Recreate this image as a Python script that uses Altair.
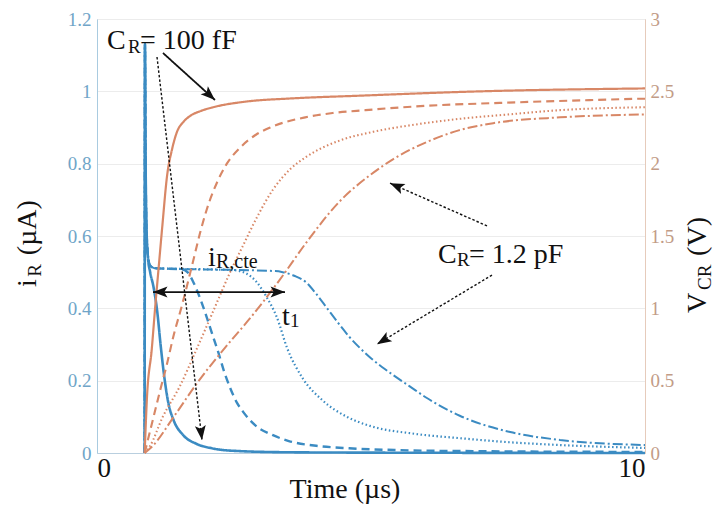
import math
import altair as alt
import pandas as pd

FONT = "Liberation Serif"
W, H = 548, 434                 # plot area (px)
T_MAX, I_MAX, V_MAX = 10.0, 1.2, 3.0
BLUE = "#3b8bc2"
ORANGE = "#d88766"
INK = "#111111"

STYLES = ["solid", "dashed", "dotted", "dashdot"]
DASHES = [[1, 0], [8, 5], [1.5, 2.5], [10, 3, 2, 3]]

# ---- resistor current i_R (µA) -------------------------------------------
i_solid_t = [0.87, 0.875, 0.885, 0.90, 0.93, 0.97, 1.03, 1.10, 1.16, 1.22, 1.30,
             1.40, 1.57, 1.82, 2.10, 2.50, 3.50, 5.00, 10.0]
i_solid = [0.0, 1.13, 0.85, 0.64, 0.54, 0.50, 0.46, 0.39, 0.30, 0.22, 0.14,
           0.09, 0.05, 0.025, 0.013, 0.006, 0.002, 0.001, 0.0]

i_dashed_t = [0.87, 0.875, 0.885, 0.90, 0.93, 0.97, 1.05, 1.55, 1.65, 1.75, 1.85,
              1.97, 2.10, 2.21, 2.32, 2.43, 2.55, 2.66, 2.90, 3.20, 3.50, 4.00,
              4.60, 5.50, 7.00, 10.0]
i_dashed = [0.0, 1.13, 0.85, 0.64, 0.545, 0.518, 0.511, 0.508, 0.50, 0.475, 0.44,
            0.39, 0.33, 0.28, 0.225, 0.18, 0.14, 0.115, 0.075, 0.05, 0.033, 0.02,
            0.013, 0.008, 0.005, 0.003]

i_dotted_t = [0.87, 0.875, 0.885, 0.90, 0.93, 0.97, 1.05, 2.45, 2.60, 2.74, 2.90,
              3.10, 3.28, 3.47, 3.76, 4.12, 4.56, 4.98, 5.80, 6.62, 7.50, 8.45, 10.0]
i_dotted = [0.0, 1.13, 0.85, 0.64, 0.545, 0.518, 0.511, 0.506, 0.503, 0.495, 0.475,
            0.43, 0.376, 0.29, 0.205, 0.145, 0.10, 0.075, 0.053, 0.041, 0.03, 0.022, 0.014]

i_dashdot_t = [0.87, 0.875, 0.885, 0.90, 0.93, 0.97, 1.05, 3.25, 3.39, 3.60, 3.83,
               4.00, 4.20, 4.40, 4.60, 4.80, 5.00, 5.20, 5.40, 5.70, 6.02, 6.62,
               7.54, 8.45, 10.0]
i_dashdot = [0.0, 1.13, 0.85, 0.64, 0.545, 0.518, 0.511, 0.503, 0.50, 0.49, 0.47,
             0.44, 0.40, 0.36, 0.322, 0.29, 0.262, 0.238, 0.216, 0.185, 0.152, 0.103,
             0.058, 0.036, 0.022]

# ---- capacitor voltage V_CR (V) ------------------------------------------
v_solid_t = [0.87, 0.91, 1.00, 1.06, 1.12, 1.19, 1.28, 1.37, 1.46, 1.58, 1.70,
             1.90, 2.12, 2.74, 3.50, 4.80, 7.00, 10.0]
v_solid = [0.0, 0.37, 0.72, 1.00, 1.26, 1.56, 1.92, 2.10, 2.22, 2.29, 2.33,
           2.365, 2.39, 2.43, 2.45, 2.47, 2.50, 2.52]

v_dashed_t = [0.87, 1.00, 1.15, 1.28, 1.39, 1.55, 1.75, 1.88, 2.00, 2.19, 2.37,
              2.61, 2.90, 3.16, 3.80, 4.30, 4.90, 6.00, 7.35, 10.0]
v_dashed = [0.0, 0.20, 0.43, 0.62, 0.80, 1.02, 1.32, 1.52, 1.68, 1.87, 2.00,
            2.11, 2.20, 2.25, 2.32, 2.35, 2.37, 2.40, 2.42, 2.45]

v_dotted_t = [0.87, 0.97, 1.20, 1.51, 1.82, 2.12, 2.43, 2.66, 2.92, 3.21, 3.52,
              3.83, 4.43, 5.04, 5.80, 6.62, 7.50, 8.45, 10.0]
v_dotted = [0.0, 0.05, 0.25, 0.46, 0.72, 0.98, 1.25, 1.43, 1.63, 1.82, 1.96,
            2.05, 2.16, 2.22, 2.27, 2.31, 2.34, 2.37, 2.39]

v_dashdot_t = [0.87, 1.02, 1.40, 1.82, 2.43, 2.79, 3.34, 3.83, 4.43, 4.98, 5.40,
               6.02, 6.60, 7.23, 8.45, 10.0]
v_dashdot = [0.0, 0.05, 0.25, 0.48, 0.77, 0.93, 1.20, 1.46, 1.74, 1.92, 2.03,
             2.15, 2.23, 2.28, 2.32, 2.34]


def long_frame(pairs):
    rows = []
    for style, (ts, vs) in zip(STYLES, pairs):
        rows += [{"t": t, "v": v, "style": style} for t, v in zip(ts, vs)]
    return pd.DataFrame(rows)


df_i = long_frame([(i_solid_t, i_solid), (i_dashed_t, i_dashed),
                   (i_dotted_t, i_dotted), (i_dashdot_t, i_dashdot)])
df_v = long_frame([(v_solid_t, v_solid), (v_dashed_t, v_dashed),
                   (v_dotted_t, v_dotted), (v_dashdot_t, v_dashdot)])

# ---- annotations (time in µs, height on the current scale) ----------------
label_text = ["C", "R", "= 100 fF", "i", "R,cte", "t", "1", "C", "R", "= 1.2 pF"]
label_t = [0.182, 0.566, 0.785, 2.026, 2.172, 3.376, 3.522, 6.223, 6.569, 6.788]
label_y = [1.117, 1.106, 1.117, 0.517, 0.511, 0.353, 0.348, 0.525, 0.517, 0.525]
label_size = [28, 19, 28, 28, 20, 28, 19, 28, 19, 28]

# rotated axis titles with subscripts
title_text = ["i", "R", "(µA)", "V", "CR", "(V)"]
title_t = [-1.113, -1.022, -1.113, 11.113, 11.204, 11.113]
title_y = [0.459, 0.487, 0.547, 0.387, 0.451, 0.545]
title_size = [28, 19, 28, 28, 19, 28]

arrow_t1 = [1.204, 1.095, 7.117, 7.208, 1.022]
arrow_y1 = [1.106, 1.095, 0.628, 0.492, 0.445]
arrow_t2 = [2.153, 1.916, 5.347, 5.109, 3.431]
arrow_y2 = [0.976, 0.036, 0.746, 0.301, 0.445]
arrow_kind = ["solid", "dashed", "dashed", "dashed", "solid"]
arrow_both = [False, False, False, False, True]


def head_angle(t_from, y_from, t_to, y_to):
    dx = (t_to - t_from) * W / T_MAX
    dy = -(y_to - y_from) * H / I_MAX
    return math.degrees(math.atan2(dx, -dy)) % 360


df_lab = pd.DataFrame({"text": label_text, "t": label_t, "y": label_y, "size": label_size})
df_ttl = pd.DataFrame({"text": title_text, "t": title_t, "y": title_y, "size": title_size})
df_arr = pd.DataFrame({"t1": arrow_t1, "y1": arrow_y1, "t2": arrow_t2,
                       "y2": arrow_y2, "kind": arrow_kind})
heads = []
for a, b, c, d, both in zip(arrow_t1, arrow_y1, arrow_t2, arrow_y2, arrow_both):
    heads.append({"t": c, "y": d, "angle": head_angle(a, b, c, d)})
    if both:
        heads.append({"t": a, "y": b, "angle": head_angle(c, d, a, b)})
df_head = pd.DataFrame(heads)

ARROW_HEAD = "M0,0L-0.75,2L0,1.55L0.75,2Z"

# ---- scales & axes --------------------------------------------------------
x_scale = alt.Scale(domain=[0, T_MAX], nice=False)
i_scale = alt.Scale(domain=[0, I_MAX], nice=False)
v_scale = alt.Scale(domain=[0, V_MAX], nice=False)

# the same x axis definition is given to every layer so the shared axis merges cleanly
x_axis = alt.Axis(values=[0, 10], format="d", title="Time (µs)", titleFont=FONT,
                  titleFontSize=28, titleFontWeight="normal", titleColor=INK,
                  titleX=247.5, titleY=44, titleBaseline="alphabetic", titleAlign="center",
                  labelFont=FONT, labelFontSize=27, labelColor=INK, labelPadding=2,
                  labelFlush=True, ticks=False, domainColor="#b9cfdf", grid=False)
i_axis = alt.Axis(orient="left", values=[0, 0.2, 0.4, 0.6, 0.8, 1.0, 1.2], format="~g",
                  title="", labelFont=FONT, labelFontSize=19, labelColor="#70a5c8",
                  labelPadding=6, ticks=False, domainColor="#a9cbe0",
                  grid=True, gridColor="#ececec")
v_axis = alt.Axis(orient="right", values=[0, 0.5, 1, 1.5, 2, 2.5, 3], format="~g",
                  title="", labelFont=FONT, labelFontSize=19, labelColor="#c29c87",
                  labelPadding=5, ticks=False, domainColor="#e6cbbb", grid=False)

dash_scale = alt.Scale(domain=STYLES, range=DASHES)


def x_enc(field):
    return alt.X(field, type="quantitative", scale=x_scale, axis=x_axis)


current = alt.Chart(df_i).mark_line(interpolate="monotone", color=BLUE).encode(
    x=x_enc("t"),
    y=alt.Y("v:Q", scale=i_scale, axis=i_axis),
    detail="style:N",
    strokeDash=alt.StrokeDash("style:N", scale=dash_scale, legend=None),
    strokeWidth=alt.StrokeWidth("style:N", scale=alt.Scale(domain=STYLES, range=[2.6, 2.0, 1.7, 1.9]), legend=None),
)

voltage = alt.Chart(df_v).mark_line(interpolate="monotone", color=ORANGE).encode(
    x=x_enc("t"),
    y=alt.Y("v:Q", scale=v_scale, axis=v_axis),
    detail="style:N",
    strokeDash=alt.StrokeDash("style:N", scale=dash_scale, legend=None),
    strokeWidth=alt.StrokeWidth("style:N", scale=alt.Scale(domain=STYLES, range=[2.2, 2.0, 1.7, 1.9]), legend=None),
)

arrows = alt.Chart(df_arr).mark_rule(color=INK).encode(
    x=x_enc("t1"),
    y=alt.Y("y1:Q", scale=i_scale, axis=None),
    x2="t2:Q",
    y2="y2:Q",
    strokeDash=alt.StrokeDash("kind:N", scale=alt.Scale(domain=["solid", "dashed"], range=[[1, 0], [2.5, 2]]), legend=None),
    strokeWidth=alt.StrokeWidth("kind:N", scale=alt.Scale(domain=["solid", "dashed"], range=[1.8, 1.4]), legend=None),
)

arrow_heads = alt.Chart(df_head).mark_point(
    shape=ARROW_HEAD, filled=True, opacity=1, size=210, color=INK, strokeWidth=0
).encode(
    x=x_enc("t"),
    y=alt.Y("y:Q", scale=i_scale, axis=None),
    angle=alt.Angle("angle:Q", scale=None),
)

labels = alt.Chart(df_lab).mark_text(
    align="left", baseline="alphabetic", font=FONT, color=INK
).encode(
    x=x_enc("t"),
    y=alt.Y("y:Q", scale=i_scale, axis=None),
    text="text:N",
    size=alt.Size("size:Q", scale=None),
)

axis_titles = alt.Chart(df_ttl).mark_text(
    align="left", baseline="alphabetic", font=FONT, color=INK, angle=270
).encode(
    x=x_enc("t"),
    y=alt.Y("y:Q", scale=i_scale, axis=None),
    text="text:N",
    size=alt.Size("size:Q", scale=None),
)

chart = alt.layer(current, voltage, arrows, arrow_heads, labels, axis_titles).resolve_scale(
    y="independent", strokeDash="independent", strokeWidth="independent"
).properties(
    width=W, height=H,
    padding={"left": 97, "top": 19, "right": 71, "bottom": 55},
    autosize=alt.AutoSizeParams(type="none"),
    background="white",
).configure_view(stroke="#d6d6d6", strokeWidth=1)

chart.save("out.html", embed_options={"renderer": "svg", "actions": False})
